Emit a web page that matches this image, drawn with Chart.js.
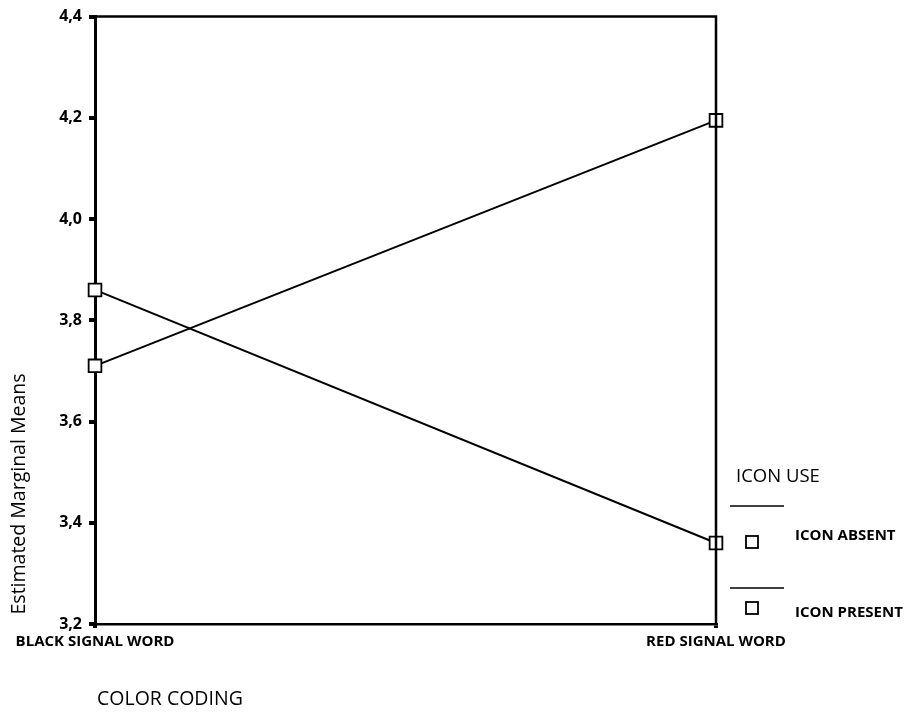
<!DOCTYPE html>
<html>
<head>
<meta charset="utf-8">
<script src="https://cdn.jsdelivr.net/npm/chart.js@4/dist/chart.umd.min.js"></script>
<style>
  html, body { margin: 0; padding: 0; background: #fff; }
  #wrap { width: 911px; height: 713px; }
</style>
</head>
<body>
<div id="wrap"><canvas id="bieuDo" width="911" height="713"></canvas></div>
<script>
// dữ liệu
const danhMuc = ["BLACK SIGNAL WORD", "RED SIGNAL WORD"];
const iconAbsent = [3.86, 3.36];
const iconPresent = [3.71, 4.195];
const tenNhom = ["ICON ABSENT", "ICON PRESENT"];
const yMin = 3.2, yMax = 4.4, yBuoc = 0.2;

const FONT = "'Open Sans', 'Noto Sans', sans-serif";

// vẽ khung, tiêu đề trục và chú thích
const khungVaChuThich = {
    id: "khungVaChuThich",
    afterDraw(chart) {
        const ctx = chart.ctx;
        const a = chart.chartArea;
        ctx.save();
        ctx.strokeStyle = "#000";
        ctx.lineWidth = 2.5;
        ctx.beginPath();
        ctx.moveTo(a.left, a.top);
        ctx.lineTo(a.right, a.top);
        ctx.lineTo(a.right, a.bottom);
        ctx.stroke();

        ctx.fillStyle = "#000";
        // tiêu đề trục y
        ctx.save();
        ctx.translate(19, 494);
        ctx.rotate(-Math.PI / 2);
        ctx.font = "19.5px " + FONT;
        ctx.textAlign = "center";
        ctx.textBaseline = "middle";
        ctx.fillText("Estimated Marginal Means", 0, 0);
        ctx.restore();

        // tiêu đề trục x
        ctx.font = "19.5px " + FONT;
        ctx.textAlign = "left";
        ctx.textBaseline = "middle";
        ctx.fillText("COLOR CODING", 97, 699);

        // chú thích
        ctx.font = "18.5px " + FONT;
        ctx.fillText("ICON USE", 736, 477);

        const dongY = [506, 588];
        const oY = [542, 608];
        const chuY = [536, 613];
        tenNhom.forEach((ten, i) => {
            ctx.lineWidth = 1.5;
            ctx.beginPath();
            ctx.moveTo(730, dongY[i]);
            ctx.lineTo(784, dongY[i]);
            ctx.stroke();
            ctx.lineWidth = 1.8;
            ctx.strokeRect(746, oY[i] - 6, 12, 12);
            ctx.font = "bold 15px " + FONT;
            ctx.fillText(ten, 795, chuY[i]);
        });
        ctx.restore();
    },
};

const kieuDuong = {
    borderColor: "#000",
    borderWidth: 2,
    pointStyle: "rect",
    pointRadius: 9,
    pointBorderWidth: 1.8,
    pointBorderColor: "#000",
    pointBackgroundColor: "#fff",
    tension: 0,
    fill: false,
};

new Chart(document.getElementById("bieuDo"), {
    type: "line",
    data: {
        labels: danhMuc,
        datasets: [
            { label: tenNhom[0], data: iconAbsent, ...kieuDuong },
            { label: tenNhom[1], data: iconPresent, ...kieuDuong },
        ],
    },
    options: {
        responsive: false,
        animation: false,
        layout: { padding: { top: 12, right: 195, left: 0, bottom: 0 } },
        plugins: {
            legend: { display: false },
            tooltip: { enabled: false },
        },
        scales: {
            x: {
                offset: false,
                afterFit: (s) => { s.height = 89; },
                border: { color: "#000", width: 2.5 },
                grid: { drawOnChartArea: false, color: "#000", lineWidth: 4, tickLength: 4 },
                ticks: {
                    color: "#000",
                    padding: 5,
                    maxRotation: 0,
                    autoSkip: false,
                    font: { family: FONT, size: 15, weight: "bold" },
                },
            },
            y: {
                min: yMin,
                max: yMax,
                afterFit: (s) => { s.width = 95; },
                border: { color: "#000", width: 3 },
                grid: { drawOnChartArea: false, color: "#000", lineWidth: 4, tickLength: 6 },
                ticks: {
                    stepSize: yBuoc,
                    color: "#000",
                    padding: 7,
                    font: { family: FONT, size: 16, weight: "bold" },
                    callback: (v) => v.toFixed(1).replace(".", ","),
                },
            },
        },
    },
    plugins: [khungVaChuThich],
});
</script>
</body>
</html>
